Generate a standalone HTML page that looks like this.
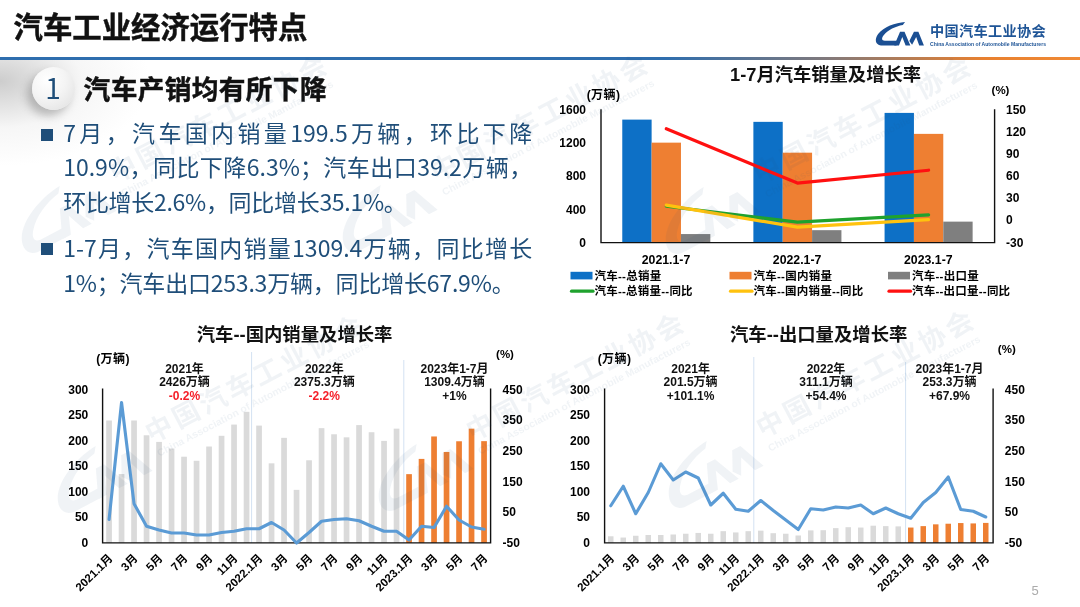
<!DOCTYPE html>
<html lang="zh-CN"><head><meta charset="utf-8"><title>汽车工业经济运行特点</title>
<style>
html,body{margin:0;padding:0;background:#fff;}
body{width:1080px;height:607px;position:relative;overflow:hidden;font-family:"Liberation Sans","Noto Sans CJK SC",sans-serif;}
#bg{position:absolute;left:0;top:59px;width:260px;height:120px;background:radial-gradient(ellipse 150px 85px at 0 22px, rgba(196,196,196,.85), rgba(230,230,230,.35) 55%, rgba(255,255,255,0) 100%);}
#line{position:absolute;left:0;top:56.7px;width:1080px;height:3.2px;background:linear-gradient(90deg,#2F6EAE 0,#2F6EAE 665px,#80797c 825px,#E8802F 985px,#F08A35 1080px);}
h1{position:absolute;left:13.5px;top:8px;margin:0;font-size:29.4px;line-height:40px;font-weight:bold;color:#111;white-space:nowrap;-webkit-text-stroke:0.45px #111;}
h2{position:absolute;left:83.6px;top:70.6px;margin:0;font-size:26.7px;line-height:38px;font-weight:bold;color:#111;white-space:nowrap;-webkit-text-stroke:0.45px #111;letter-spacing:0.35px;}
#num{position:absolute;left:31.6px;top:66.5px;width:43px;height:43px;border-radius:50%;background:radial-gradient(circle at 35% 30%,#ffffff 0,#f4f4f4 45%,#dedede 100%);box-shadow:-5px 6px 9px rgba(120,120,120,.45);text-align:center;font-family:"Noto Sans CJK SC","Liberation Sans",sans-serif;font-size:28px;line-height:41px;color:#1F4E79;}
.p{position:absolute;left:63.2px;width:469px;font-family:"Noto Sans CJK SC","Liberation Sans",sans-serif;font-size:23px;line-height:34.5px;color:#1F4E79;white-space:nowrap;}
.j{text-align:justify;text-align-last:justify;}
.b{position:absolute;left:40.5px;width:12px;height:12px;background:#1F4E79;}
#org{position:absolute;left:930px;top:20.7px;font-size:14.2px;line-height:20px;font-weight:bold;color:#1F5597;white-space:nowrap;letter-spacing:0.3px;}
#orge{position:absolute;left:930px;top:40.5px;font-size:5.1px;line-height:7px;font-weight:bold;color:#1F5597;white-space:nowrap;}
#pg{position:absolute;left:1031.5px;top:582.4px;font-size:13px;line-height:18px;color:#ababab;}
svg{position:absolute;left:0;top:0;}
svg text{font-family:"Liberation Sans","Noto Sans CJK SC",sans-serif;}
</style></head><body>
<div id="bg"></div>
<div id="line"></div>
<h1>汽车工业经济运行特点</h1>
<div id="num">1</div>
<h2>汽车产销均有所下降</h2>
<div class="b" style="top:128.6px"></div>
<div class="p j" style="top:115.4px">7月，汽车国内销量199.5万辆，环比下降</div>
<div class="p j" style="top:148.5px">10.9%，同比下降6.3%；汽车出口39.2万辆，</div>
<div class="p" style="top:184.1px;letter-spacing:-0.3px">环比增长2.6%，同比增长35.1%。</div>
<div class="b" style="top:242.8px"></div>
<div class="p j" style="top:229.9px">1-7月，汽车国内销量1309.4万辆，同比增长</div>
<div class="p" style="top:264.5px;letter-spacing:-0.2px">1%；汽车出口253.3万辆，同比增长67.9%。</div>
<svg width="1080" height="607" viewBox="0 0 1080 607">
<use href="#cam" transform="translate(872,18) scale(0.05556)" fill="#1B4F93"/>
<text transform="translate(930,45.9) scale(0.5)" font-size="10.2" font-weight="bold" fill="#1F5597" textLength="232" lengthAdjust="spacingAndGlyphs">China Association of Automobile Manufacturers</text>
<rect x="622.27" y="119.61" width="29.35" height="122.99" fill="#0D70C6"/>
<rect x="651.62" y="142.65" width="29.35" height="99.95" fill="#EE7F32"/>
<rect x="680.98" y="234.06" width="29.35" height="8.54" fill="#7F7F7F"/>
<rect x="753.38" y="121.85" width="29.35" height="120.75" fill="#0D70C6"/>
<rect x="782.73" y="152.68" width="29.35" height="89.92" fill="#EE7F32"/>
<rect x="812.08" y="230.17" width="29.35" height="12.43" fill="#7F7F7F"/>
<rect x="884.58" y="112.90" width="29.35" height="129.70" fill="#0D70C6"/>
<rect x="913.93" y="133.87" width="29.35" height="108.73" fill="#EE7F32"/>
<rect x="943.28" y="221.63" width="29.35" height="20.97" fill="#7F7F7F"/>
<path d="M601 109.3V242.6H994.6V109.3" fill="none" stroke="#111" stroke-width="1.4"/>
<polyline points="666.3,206.23 797.4,222.18 928.6,214.91" fill="none" stroke="#1FA22E" stroke-width="3.2" stroke-linecap="round" stroke-linejoin="round"/>
<polyline points="666.3,205.13 797.4,227.18 928.6,219.61" fill="none" stroke="#FFC20E" stroke-width="3.2" stroke-linecap="round" stroke-linejoin="round"/>
<polyline points="666.3,128.77 797.4,183.08 928.6,170.22" fill="none" stroke="#FF1010" stroke-width="3.2" stroke-linecap="round" stroke-linejoin="round"/>
<text x="586.00" y="114.32" font-size="12" text-anchor="end" font-weight="bold" fill="#000" >1600</text>
<text x="586.00" y="147.32" font-size="12" text-anchor="end" font-weight="bold" fill="#000" >1200</text>
<text x="586.00" y="180.32" font-size="12" text-anchor="end" font-weight="bold" fill="#000" >800</text>
<text x="586.00" y="213.62" font-size="12" text-anchor="end" font-weight="bold" fill="#000" >400</text>
<text x="586.00" y="246.62" font-size="12" text-anchor="end" font-weight="bold" fill="#000" >0</text>
<text x="1006.00" y="114.32" font-size="12" text-anchor="start" font-weight="bold" fill="#000" >150</text>
<text x="1006.00" y="136.32" font-size="12" text-anchor="start" font-weight="bold" fill="#000" >120</text>
<text x="1006.00" y="158.32" font-size="12" text-anchor="start" font-weight="bold" fill="#000" >90</text>
<text x="1006.00" y="180.32" font-size="12" text-anchor="start" font-weight="bold" fill="#000" >60</text>
<text x="1006.00" y="202.32" font-size="12" text-anchor="start" font-weight="bold" fill="#000" >30</text>
<text x="1006.00" y="224.32" font-size="12" text-anchor="start" font-weight="bold" fill="#000" >0</text>
<text x="1006.00" y="246.62" font-size="12" text-anchor="start" font-weight="bold" fill="#000" >-30</text>
<text x="603.50" y="98.62" font-size="12" text-anchor="middle" font-weight="bold" fill="#000" letter-spacing="0.4">(万辆)</text>
<text x="1000.50" y="94.14" font-size="11.5" text-anchor="middle" font-weight="bold" fill="#000" >(%)</text>
<text x="666.00" y="264.03" font-size="12.3" text-anchor="middle" font-weight="bold" fill="#000" >2021.1-7</text>
<text x="797.10" y="264.03" font-size="12.3" text-anchor="middle" font-weight="bold" fill="#000" >2022.1-7</text>
<text x="928.30" y="264.03" font-size="12.3" text-anchor="middle" font-weight="bold" fill="#000" >2023.1-7</text>
<rect x="570.5" y="271.8" width="22" height="7.6" fill="#0D70C6"/>
<line x1="571.5" y1="291.2" x2="593.0" y2="291.2" stroke="#1FA22E" stroke-width="3.2" stroke-linecap="round"/>
<text x="594.50" y="279.74" font-size="11.5" text-anchor="start" font-weight="bold" fill="#000" letter-spacing="0.25">汽车--总销量</text>
<text x="594.50" y="295.34" font-size="11.5" text-anchor="start" font-weight="bold" fill="#000" letter-spacing="0.23">汽车--总销量--同比</text>
<rect x="729.5" y="271.8" width="22" height="7.6" fill="#EE7F32"/>
<line x1="730.5" y1="291.2" x2="752.0" y2="291.2" stroke="#FFC20E" stroke-width="3.2" stroke-linecap="round"/>
<text x="753.50" y="279.74" font-size="11.5" text-anchor="start" font-weight="bold" fill="#000" letter-spacing="0.25">汽车--国内销量</text>
<text x="753.50" y="295.34" font-size="11.5" text-anchor="start" font-weight="bold" fill="#000" letter-spacing="0.23">汽车--国内销量--同比</text>
<rect x="888" y="271.8" width="22" height="7.6" fill="#7F7F7F"/>
<line x1="889" y1="291.2" x2="910.5" y2="291.2" stroke="#FF1010" stroke-width="3.2" stroke-linecap="round"/>
<text x="912.00" y="279.74" font-size="11.5" text-anchor="start" font-weight="bold" fill="#000" letter-spacing="0.25">汽车--出口量</text>
<text x="912.00" y="295.34" font-size="11.5" text-anchor="start" font-weight="bold" fill="#000" letter-spacing="0.23">汽车--出口量--同比</text>
<text x="825.50" y="80.59" font-size="18.3" text-anchor="middle" font-weight="bold" fill="#111" >1-7月汽车销量及增长率</text>
<rect x="106.20" y="420.50" width="5.7" height="122.40" fill="#DADADA"/>
<rect x="118.70" y="474.05" width="5.7" height="68.85" fill="#DADADA"/>
<rect x="131.20" y="420.50" width="5.7" height="122.40" fill="#DADADA"/>
<rect x="143.70" y="435.29" width="5.7" height="107.61" fill="#DADADA"/>
<rect x="156.20" y="441.92" width="5.7" height="100.98" fill="#DADADA"/>
<rect x="168.70" y="448.55" width="5.7" height="94.35" fill="#DADADA"/>
<rect x="181.20" y="456.71" width="5.7" height="86.19" fill="#DADADA"/>
<rect x="193.70" y="460.79" width="5.7" height="82.11" fill="#DADADA"/>
<rect x="206.20" y="446.51" width="5.7" height="96.39" fill="#DADADA"/>
<rect x="218.70" y="435.80" width="5.7" height="107.10" fill="#DADADA"/>
<rect x="231.20" y="424.58" width="5.7" height="118.32" fill="#DADADA"/>
<rect x="243.70" y="411.83" width="5.7" height="131.07" fill="#DADADA"/>
<rect x="256.20" y="425.60" width="5.7" height="117.30" fill="#DADADA"/>
<rect x="268.70" y="463.34" width="5.7" height="79.56" fill="#DADADA"/>
<rect x="281.20" y="437.84" width="5.7" height="105.06" fill="#DADADA"/>
<rect x="293.70" y="489.86" width="5.7" height="53.04" fill="#DADADA"/>
<rect x="306.20" y="460.28" width="5.7" height="82.62" fill="#DADADA"/>
<rect x="318.70" y="428.15" width="5.7" height="114.75" fill="#DADADA"/>
<rect x="331.20" y="434.27" width="5.7" height="108.63" fill="#DADADA"/>
<rect x="343.70" y="437.33" width="5.7" height="105.57" fill="#DADADA"/>
<rect x="356.20" y="425.09" width="5.7" height="117.81" fill="#DADADA"/>
<rect x="368.70" y="432.23" width="5.7" height="110.67" fill="#DADADA"/>
<rect x="381.20" y="440.90" width="5.7" height="102.00" fill="#DADADA"/>
<rect x="393.70" y="428.66" width="5.7" height="114.24" fill="#DADADA"/>
<rect x="406.20" y="474.15" width="5.7" height="68.75" fill="#EE7F32"/>
<rect x="418.70" y="458.90" width="5.7" height="84.00" fill="#EE7F32"/>
<rect x="431.20" y="436.46" width="5.7" height="106.44" fill="#EE7F32"/>
<rect x="443.70" y="451.97" width="5.7" height="90.93" fill="#EE7F32"/>
<rect x="456.20" y="441.26" width="5.7" height="101.64" fill="#EE7F32"/>
<rect x="468.70" y="428.66" width="5.7" height="114.24" fill="#EE7F32"/>
<rect x="481.20" y="441.15" width="5.7" height="101.75" fill="#EE7F32"/>
<line x1="251.6" y1="352" x2="251.6" y2="543" stroke="#D3E2F2" stroke-width="1"/>
<line x1="403.8" y1="360" x2="403.8" y2="543" stroke="#D3E2F2" stroke-width="1"/>
<path d="M102.6 388.6V542.9H490.6V388.6" fill="none" stroke="#111" stroke-width="1.4"/>
<polyline points="109.05,519.50 121.55,402.50 134.05,503.75 146.55,526.25 159.05,530.00 171.55,533.00 184.05,533.00 196.55,535.00 209.05,535.00 221.55,532.50 234.05,531.25 246.55,528.75 259.05,528.75 271.55,522.50 284.05,530.00 296.55,543.00 309.05,532.50 321.55,521.25 334.05,519.50 346.55,518.75 359.05,520.75 371.55,526.25 384.05,531.25 396.55,531.25 409.05,540.00 421.55,526.25 434.05,527.50 446.55,506.25 459.05,520.00 471.55,527.00 484.05,529.25" fill="none" stroke="#5B9BD5" stroke-width="3.1" stroke-linecap="round" stroke-linejoin="round"/>
<text x="88.30" y="393.72" font-size="12" text-anchor="end" font-weight="bold" fill="#000" >300</text>
<text x="88.30" y="419.22" font-size="12" text-anchor="end" font-weight="bold" fill="#000" >250</text>
<text x="88.30" y="444.72" font-size="12" text-anchor="end" font-weight="bold" fill="#000" >200</text>
<text x="88.30" y="470.22" font-size="12" text-anchor="end" font-weight="bold" fill="#000" >150</text>
<text x="88.30" y="495.72" font-size="12" text-anchor="end" font-weight="bold" fill="#000" >100</text>
<text x="88.30" y="521.22" font-size="12" text-anchor="end" font-weight="bold" fill="#000" >50</text>
<text x="88.30" y="546.72" font-size="12" text-anchor="end" font-weight="bold" fill="#000" >0</text>
<text x="502.60" y="393.72" font-size="12" text-anchor="start" font-weight="bold" fill="#000" >450</text>
<text x="502.60" y="424.34" font-size="12" text-anchor="start" font-weight="bold" fill="#000" >350</text>
<text x="502.60" y="454.96" font-size="12" text-anchor="start" font-weight="bold" fill="#000" >250</text>
<text x="502.60" y="485.58" font-size="12" text-anchor="start" font-weight="bold" fill="#000" >150</text>
<text x="502.60" y="516.20" font-size="12" text-anchor="start" font-weight="bold" fill="#000" >50</text>
<text x="502.60" y="546.82" font-size="12" text-anchor="start" font-weight="bold" fill="#000" >-50</text>
<text x="113.00" y="363.12" font-size="12" text-anchor="middle" font-weight="bold" fill="#000" letter-spacing="0.4">(万辆)</text>
<text x="505.00" y="357.94" font-size="11.5" text-anchor="middle" font-weight="bold" fill="#000" >(%)</text>
<text x="184.50" y="372.82" font-size="12" text-anchor="middle" font-weight="bold" fill="#111" >2021年</text>
<text x="184.50" y="386.32" font-size="12" text-anchor="middle" font-weight="bold" fill="#111" >2426万辆</text>
<text x="184.50" y="399.82" font-size="12" text-anchor="middle" font-weight="bold" fill="#F5202A" >-0.2%</text>
<text x="324.30" y="372.82" font-size="12" text-anchor="middle" font-weight="bold" fill="#111" >2022年</text>
<text x="324.30" y="386.32" font-size="12" text-anchor="middle" font-weight="bold" fill="#111" >2375.3万辆</text>
<text x="324.30" y="399.82" font-size="12" text-anchor="middle" font-weight="bold" fill="#F5202A" >-2.2%</text>
<text x="454.50" y="372.82" font-size="12" text-anchor="middle" font-weight="bold" fill="#111" >2023年1-7月</text>
<text x="454.50" y="386.32" font-size="12" text-anchor="middle" font-weight="bold" fill="#111" >1309.4万辆</text>
<text x="454.50" y="399.82" font-size="12" text-anchor="middle" font-weight="bold" fill="#111" >+1%</text>
<text x="294.60" y="340.91" font-size="18.35" text-anchor="middle" font-weight="bold" fill="#111" >汽车--国内销量及增长率</text>
<text transform="translate(110.35,556.0) rotate(-45)" font-size="11.5" font-weight="bold" text-anchor="end" y="4.2">2021.1月</text>
<text transform="translate(135.35,556.0) rotate(-45)" font-size="11.5" font-weight="bold" text-anchor="end" y="4.2">3月</text>
<text transform="translate(160.35,556.0) rotate(-45)" font-size="11.5" font-weight="bold" text-anchor="end" y="4.2">5月</text>
<text transform="translate(185.35,556.0) rotate(-45)" font-size="11.5" font-weight="bold" text-anchor="end" y="4.2">7月</text>
<text transform="translate(210.35,556.0) rotate(-45)" font-size="11.5" font-weight="bold" text-anchor="end" y="4.2">9月</text>
<text transform="translate(235.35,556.0) rotate(-45)" font-size="11.5" font-weight="bold" text-anchor="end" y="4.2">11月</text>
<text transform="translate(260.35,556.0) rotate(-45)" font-size="11.5" font-weight="bold" text-anchor="end" y="4.2">2022.1月</text>
<text transform="translate(285.35,556.0) rotate(-45)" font-size="11.5" font-weight="bold" text-anchor="end" y="4.2">3月</text>
<text transform="translate(310.35,556.0) rotate(-45)" font-size="11.5" font-weight="bold" text-anchor="end" y="4.2">5月</text>
<text transform="translate(335.35,556.0) rotate(-45)" font-size="11.5" font-weight="bold" text-anchor="end" y="4.2">7月</text>
<text transform="translate(360.35,556.0) rotate(-45)" font-size="11.5" font-weight="bold" text-anchor="end" y="4.2">9月</text>
<text transform="translate(385.35,556.0) rotate(-45)" font-size="11.5" font-weight="bold" text-anchor="end" y="4.2">11月</text>
<text transform="translate(410.35,556.0) rotate(-45)" font-size="11.5" font-weight="bold" text-anchor="end" y="4.2">2023.1月</text>
<text transform="translate(435.35,556.0) rotate(-45)" font-size="11.5" font-weight="bold" text-anchor="end" y="4.2">3月</text>
<text transform="translate(460.35,556.0) rotate(-45)" font-size="11.5" font-weight="bold" text-anchor="end" y="4.2">5月</text>
<text transform="translate(485.35,556.0) rotate(-45)" font-size="11.5" font-weight="bold" text-anchor="end" y="4.2">7月</text>
<rect x="608.00" y="536.27" width="5.5" height="6.63" fill="#DADADA"/>
<rect x="620.50" y="537.54" width="5.5" height="5.36" fill="#DADADA"/>
<rect x="633.00" y="535.76" width="5.5" height="7.14" fill="#DADADA"/>
<rect x="645.50" y="535.00" width="5.5" height="7.91" fill="#DADADA"/>
<rect x="658.00" y="535.00" width="5.5" height="7.91" fill="#DADADA"/>
<rect x="670.50" y="534.49" width="5.5" height="8.42" fill="#DADADA"/>
<rect x="683.00" y="533.72" width="5.5" height="9.18" fill="#DADADA"/>
<rect x="695.50" y="532.95" width="5.5" height="9.95" fill="#DADADA"/>
<rect x="708.00" y="533.72" width="5.5" height="9.18" fill="#DADADA"/>
<rect x="720.50" y="531.17" width="5.5" height="11.73" fill="#DADADA"/>
<rect x="733.00" y="532.44" width="5.5" height="10.46" fill="#DADADA"/>
<rect x="745.50" y="531.17" width="5.5" height="11.73" fill="#DADADA"/>
<rect x="758.00" y="530.66" width="5.5" height="12.24" fill="#DADADA"/>
<rect x="770.50" y="533.21" width="5.5" height="9.69" fill="#DADADA"/>
<rect x="783.00" y="533.72" width="5.5" height="9.18" fill="#DADADA"/>
<rect x="795.50" y="535.50" width="5.5" height="7.40" fill="#DADADA"/>
<rect x="808.00" y="530.40" width="5.5" height="12.50" fill="#DADADA"/>
<rect x="820.50" y="530.20" width="5.5" height="12.70" fill="#DADADA"/>
<rect x="833.00" y="528.11" width="5.5" height="14.79" fill="#DADADA"/>
<rect x="845.50" y="527.19" width="5.5" height="15.71" fill="#DADADA"/>
<rect x="858.00" y="527.55" width="5.5" height="15.35" fill="#DADADA"/>
<rect x="870.50" y="525.71" width="5.5" height="17.19" fill="#DADADA"/>
<rect x="883.00" y="526.12" width="5.5" height="16.78" fill="#DADADA"/>
<rect x="895.50" y="526.38" width="5.5" height="16.52" fill="#DADADA"/>
<rect x="908.00" y="527.55" width="5.5" height="15.35" fill="#EE7F32"/>
<rect x="920.50" y="526.12" width="5.5" height="16.78" fill="#EE7F32"/>
<rect x="933.00" y="524.34" width="5.5" height="18.56" fill="#EE7F32"/>
<rect x="945.50" y="523.72" width="5.5" height="19.18" fill="#EE7F32"/>
<rect x="958.00" y="523.06" width="5.5" height="19.84" fill="#EE7F32"/>
<rect x="970.50" y="523.42" width="5.5" height="19.48" fill="#EE7F32"/>
<rect x="983.00" y="522.91" width="5.5" height="19.99" fill="#EE7F32"/>
<line x1="753.8" y1="357" x2="753.8" y2="543" stroke="#D3E2F2" stroke-width="1"/>
<line x1="905.6" y1="362" x2="905.6" y2="543" stroke="#D3E2F2" stroke-width="1"/>
<path d="M604.6 388.6V542.9H993.1V388.6" fill="none" stroke="#111" stroke-width="1.4"/>
<polyline points="610.75,505.75 623.25,486.25 635.75,513.75 648.25,492.50 660.75,463.75 673.25,480.00 685.75,472.00 698.25,478.00 710.75,505.00 723.25,493.25 735.75,509.25 748.25,511.25 760.75,500.50 773.25,510.50 785.75,520.00 798.25,529.50 810.75,508.75 823.25,510.00 835.75,507.00 848.25,508.00 860.75,505.00 873.25,513.75 885.75,508.00 898.25,513.75 910.75,518.25 923.25,502.50 935.75,492.50 948.25,477.00 960.75,509.50 973.25,511.25 985.75,517.00" fill="none" stroke="#5B9BD5" stroke-width="3.1" stroke-linecap="round" stroke-linejoin="round"/>
<text x="590.00" y="393.72" font-size="12" text-anchor="end" font-weight="bold" fill="#000" >300</text>
<text x="590.00" y="419.22" font-size="12" text-anchor="end" font-weight="bold" fill="#000" >250</text>
<text x="590.00" y="444.72" font-size="12" text-anchor="end" font-weight="bold" fill="#000" >200</text>
<text x="590.00" y="470.22" font-size="12" text-anchor="end" font-weight="bold" fill="#000" >150</text>
<text x="590.00" y="495.72" font-size="12" text-anchor="end" font-weight="bold" fill="#000" >100</text>
<text x="590.00" y="521.22" font-size="12" text-anchor="end" font-weight="bold" fill="#000" >50</text>
<text x="590.00" y="546.72" font-size="12" text-anchor="end" font-weight="bold" fill="#000" >0</text>
<text x="1004.80" y="393.72" font-size="12" text-anchor="start" font-weight="bold" fill="#000" >450</text>
<text x="1004.80" y="424.34" font-size="12" text-anchor="start" font-weight="bold" fill="#000" >350</text>
<text x="1004.80" y="454.96" font-size="12" text-anchor="start" font-weight="bold" fill="#000" >250</text>
<text x="1004.80" y="485.58" font-size="12" text-anchor="start" font-weight="bold" fill="#000" >150</text>
<text x="1004.80" y="516.20" font-size="12" text-anchor="start" font-weight="bold" fill="#000" >50</text>
<text x="1004.80" y="546.82" font-size="12" text-anchor="start" font-weight="bold" fill="#000" >-50</text>
<text x="614.50" y="363.12" font-size="12" text-anchor="middle" font-weight="bold" fill="#000" letter-spacing="0.4">(万辆)</text>
<text x="1006.80" y="352.94" font-size="11.5" text-anchor="middle" font-weight="bold" fill="#000" >(%)</text>
<text x="690.60" y="372.82" font-size="12" text-anchor="middle" font-weight="bold" fill="#111" >2021年</text>
<text x="690.60" y="386.32" font-size="12" text-anchor="middle" font-weight="bold" fill="#111" >201.5万辆</text>
<text x="690.60" y="399.82" font-size="12" text-anchor="middle" font-weight="bold" fill="#111" >+101.1%</text>
<text x="826.00" y="372.82" font-size="12" text-anchor="middle" font-weight="bold" fill="#111" >2022年</text>
<text x="826.00" y="386.32" font-size="12" text-anchor="middle" font-weight="bold" fill="#111" >311.1万辆</text>
<text x="826.00" y="399.82" font-size="12" text-anchor="middle" font-weight="bold" fill="#111" >+54.4%</text>
<text x="949.50" y="372.82" font-size="12" text-anchor="middle" font-weight="bold" fill="#111" >2023年1-7月</text>
<text x="949.50" y="386.32" font-size="12" text-anchor="middle" font-weight="bold" fill="#111" >253.3万辆</text>
<text x="949.50" y="399.82" font-size="12" text-anchor="middle" font-weight="bold" fill="#111" >+67.9%</text>
<text x="818.70" y="340.91" font-size="18.35" text-anchor="middle" font-weight="bold" fill="#111" >汽车--出口量及增长率</text>
<text transform="translate(612.05,556.0) rotate(-45)" font-size="11.5" font-weight="bold" text-anchor="end" y="4.2">2021.1月</text>
<text transform="translate(637.05,556.0) rotate(-45)" font-size="11.5" font-weight="bold" text-anchor="end" y="4.2">3月</text>
<text transform="translate(662.05,556.0) rotate(-45)" font-size="11.5" font-weight="bold" text-anchor="end" y="4.2">5月</text>
<text transform="translate(687.05,556.0) rotate(-45)" font-size="11.5" font-weight="bold" text-anchor="end" y="4.2">7月</text>
<text transform="translate(712.05,556.0) rotate(-45)" font-size="11.5" font-weight="bold" text-anchor="end" y="4.2">9月</text>
<text transform="translate(737.05,556.0) rotate(-45)" font-size="11.5" font-weight="bold" text-anchor="end" y="4.2">11月</text>
<text transform="translate(762.05,556.0) rotate(-45)" font-size="11.5" font-weight="bold" text-anchor="end" y="4.2">2022.1月</text>
<text transform="translate(787.05,556.0) rotate(-45)" font-size="11.5" font-weight="bold" text-anchor="end" y="4.2">3月</text>
<text transform="translate(812.05,556.0) rotate(-45)" font-size="11.5" font-weight="bold" text-anchor="end" y="4.2">5月</text>
<text transform="translate(837.05,556.0) rotate(-45)" font-size="11.5" font-weight="bold" text-anchor="end" y="4.2">7月</text>
<text transform="translate(862.05,556.0) rotate(-45)" font-size="11.5" font-weight="bold" text-anchor="end" y="4.2">9月</text>
<text transform="translate(887.05,556.0) rotate(-45)" font-size="11.5" font-weight="bold" text-anchor="end" y="4.2">11月</text>
<text transform="translate(912.05,556.0) rotate(-45)" font-size="11.5" font-weight="bold" text-anchor="end" y="4.2">2023.1月</text>
<text transform="translate(937.05,556.0) rotate(-45)" font-size="11.5" font-weight="bold" text-anchor="end" y="4.2">3月</text>
<text transform="translate(962.05,556.0) rotate(-45)" font-size="11.5" font-weight="bold" text-anchor="end" y="4.2">5月</text>
<text transform="translate(987.05,556.0) rotate(-45)" font-size="11.5" font-weight="bold" text-anchor="end" y="4.2">7月</text>
</svg>
<div id="org">中国汽车工业协会</div>
<div id="pg">5</div>
<svg id="wm" width="1080" height="607" viewBox="0 0 1080 607" fill="#1F4E79" opacity="0.062">
<defs><g id="cam">
<path d="M595 72C420 85 210 160 110 290C40 390 60 480 160 495L440 495L480 410L230 410C170 405 170 360 210 310C290 210 420 150 555 125Z"/>
<path d="M400 495L505 248L585 248L690 495L605 495L545 340L485 495Z"/>
<path d="M672 415L755 248L835 248L935 495L850 495L795 340L722 480Z"/>
</g></defs>
<g transform="translate(34,245) rotate(-27.6)"><use href="#cam" transform="translate(89,8) scale(0.1145) translate(-935,-495)"/><text x="100.8" y="-17" font-size="27" font-weight="bold" letter-spacing="3.5">中国汽车工业协会</text><text x="101.5" y="-1.5" font-size="10" font-weight="bold" textLength="238" lengthAdjust="spacingAndGlyphs">China Association of Automobile Manufacturers</text></g>
<g transform="translate(355,244) rotate(-27.6)"><use href="#cam" transform="translate(89,8) scale(0.1145) translate(-935,-495)"/><text x="100.8" y="-17" font-size="27" font-weight="bold" letter-spacing="3.5">中国汽车工业协会</text><text x="101.5" y="-1.5" font-size="10" font-weight="bold" textLength="238" lengthAdjust="spacingAndGlyphs">China Association of Automobile Manufacturers</text></g>
<g transform="translate(678,246) rotate(-27.6)"><use href="#cam" transform="translate(89,8) scale(0.1145) translate(-935,-495)"/><text x="100.8" y="-17" font-size="27" font-weight="bold" letter-spacing="3.5">中国汽车工业协会</text><text x="101.5" y="-1.5" font-size="10" font-weight="bold" textLength="238" lengthAdjust="spacingAndGlyphs">China Association of Automobile Manufacturers</text></g>
<g transform="translate(70,505) rotate(-27.6)"><use href="#cam" transform="translate(89,8) scale(0.1145) translate(-935,-495)"/><text x="100.8" y="-17" font-size="27" font-weight="bold" letter-spacing="3.5">中国汽车工业协会</text><text x="101.5" y="-1.5" font-size="10" font-weight="bold" textLength="238" lengthAdjust="spacingAndGlyphs">China Association of Automobile Manufacturers</text></g>
<g transform="translate(391,503) rotate(-27.6)"><use href="#cam" transform="translate(89,8) scale(0.1145) translate(-935,-495)"/><text x="100.8" y="-17" font-size="27" font-weight="bold" letter-spacing="3.5">中国汽车工业协会</text><text x="101.5" y="-1.5" font-size="10" font-weight="bold" textLength="238" lengthAdjust="spacingAndGlyphs">China Association of Automobile Manufacturers</text></g>
<g transform="translate(681,500) rotate(-27.6)"><use href="#cam" transform="translate(89,8) scale(0.1145) translate(-935,-495)"/><text x="100.8" y="-17" font-size="27" font-weight="bold" letter-spacing="3.5">中国汽车工业协会</text><text x="101.5" y="-1.5" font-size="10" font-weight="bold" textLength="238" lengthAdjust="spacingAndGlyphs">China Association of Automobile Manufacturers</text></g>
</svg>
</body></html>
